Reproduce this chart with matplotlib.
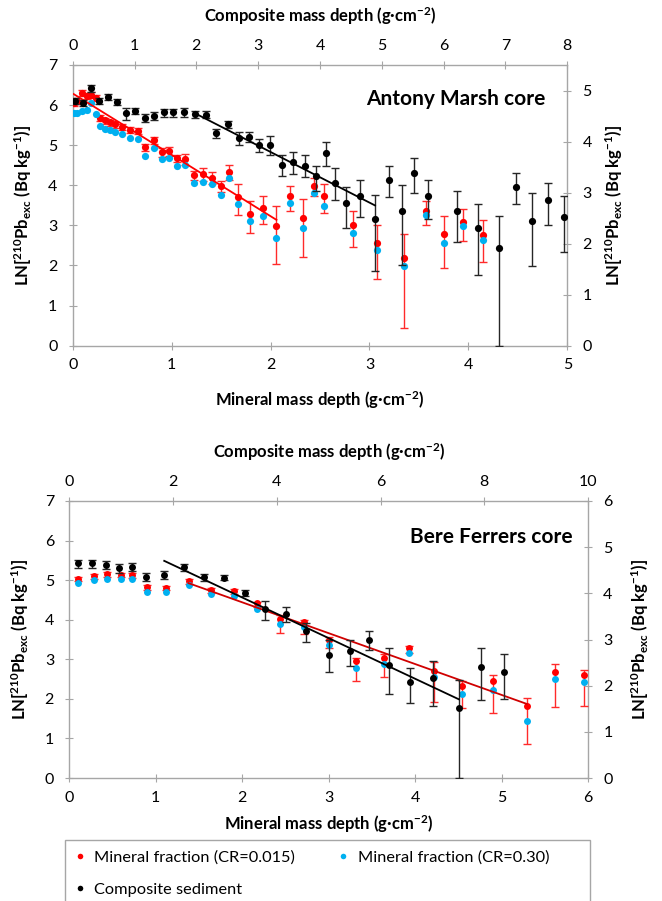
import matplotlib
matplotlib.use("Agg")
import matplotlib.pyplot as plt
from matplotlib.lines import Line2D
from matplotlib.patches import Rectangle
from matplotlib.ticker import MultipleLocator
import numpy as np

plt.rcParams['font.family'] = ['Lato', 'DejaVu Sans']
plt.rcParams['mathtext.fontset'] = 'custom'
plt.rcParams['mathtext.rm'] = 'Lato'
plt.rcParams['mathtext.bf'] = 'Lato:bold'
plt.rcParams['mathtext.default'] = 'bf'

RED = '#FF0000'
BLUE = '#00B0F0'
AXIS_GREY = '#A6A6A6'

# ---------------- Antony Marsh core ----------------
am_mineral_depth = [0.01, 0.04, 0.09, 0.14, 0.19, 0.24, 0.28, 0.33, 0.38, 0.43, 0.50, 0.58, 0.66,
                    0.73, 0.82, 0.90, 0.97, 1.05, 1.14, 1.23, 1.32, 1.41, 1.50, 1.58, 1.67, 1.79,
                    1.92, 2.06, 2.20, 2.33, 2.44, 2.54, 2.83, 3.08, 3.35, 3.57, 3.75, 3.95, 4.15]
am_ln_cr015 = [6.06, 6.10, 6.31, 6.22, 6.25, 6.18, 5.68, 5.62, 5.57, 5.52, 5.46, 5.39, 5.35,
               4.95, 5.12, 4.83, 4.85, 4.67, 4.66, 4.25, 4.28, 4.19, 3.98, 4.34, 3.71, 3.28,
               3.43, 2.99, 3.73, 3.18, 3.99, 3.73, 3.01, 2.56, 2.19, 3.35, 2.78, 3.08, 2.75]
am_err_lo_cr015 = [0.08] * 13 + [0.10, 0.10, 0.12, 0.12, 0.10, 0.15, 0.12, 0.18, 0.17, 0.14, 0.20,
                                 0.44, 0.47, 0.40, 0.96, 0.38, 0.97, 0.25, 0.42, 0.55, 0.89, 1.74,
                                 0.35, 0.83, 0.48, 0.67]
am_err_hi_cr015 = [0.07] * 13 + [0.08, 0.08, 0.10, 0.10, 0.08, 0.12, 0.10, 0.15, 0.14, 0.12, 0.17,
                                 0.31, 0.32, 0.30, 0.49, 0.26, 0.49, 0.20, 0.29, 0.36, 0.46, 0.60,
                                 0.25, 0.46, 0.33, 0.39]
am_ln_cr030 = [5.81, 5.80, 5.85, 5.87, 6.06, 5.77, 5.48, 5.40, 5.38, 5.33, 5.28, 5.19, 5.15,
               4.74, 4.93, 4.65, 4.68, 4.49, 4.50, 4.06, 4.09, 4.02, 3.76, 4.19, 3.54, 3.10,
               3.24, 2.68, 3.57, 2.93, 3.81, 3.49, 2.82, 2.39, 1.98, 3.27, 2.55, 2.99, 2.63]

am_composite_depth = [0.04, 0.16, 0.29, 0.43, 0.57, 0.72, 0.87, 1.01, 1.17, 1.32, 1.47, 1.62, 1.80,
                      1.98, 2.16, 2.32, 2.51, 2.69, 2.85, 3.02, 3.19, 3.39, 3.57, 3.75, 3.93, 4.09,
                      4.25, 4.42, 4.65, 4.89, 5.11, 5.33, 5.52, 5.74, 6.21, 6.55, 6.90, 7.17, 7.43,
                      7.69, 7.94]
am_ln_composite = [4.79, 4.76, 5.04, 4.79, 4.88, 4.78, 4.55, 4.60, 4.47, 4.51, 4.57, 4.57, 4.58,
                   4.54, 4.53, 4.16, 4.34, 4.07, 4.09, 3.93, 3.93, 3.55, 3.60, 3.53, 3.32, 3.78,
                   3.18, 2.79, 2.94, 2.48, 3.24, 2.63, 3.38, 2.94, 2.64, 2.30, 1.92, 3.10, 2.44,
                   2.85, 2.52]
am_err_lo_composite = [0.06] * 6 + [0.12, 0.06, 0.08, 0.08, 0.08, 0.08, 0.09, 0.07, 0.07, 0.10, 0.08,
                                    0.13, 0.10, 0.13, 0.20, 0.22, 0.24, 0.23, 0.28, 0.25, 0.33, 0.48,
                                    0.41, 1.02, 0.33, 1.04, 0.38, 0.46, 0.60, 0.92, 1.92, 0.33, 0.88,
                                    0.48, 0.68]
am_err_hi_composite = [0.06] * 6 + [0.10, 0.06, 0.07, 0.07, 0.07, 0.07, 0.08, 0.06, 0.06, 0.09, 0.07,
                                    0.12, 0.09, 0.12, 0.17, 0.18, 0.20, 0.20, 0.20, 0.21, 0.31, 0.32,
                                    0.30, 0.48, 0.29, 0.51, 0.29, 0.30, 0.40, 0.48, 0.63, 0.28, 0.55,
                                    0.33, 0.42]

# regression lines: (intercept, slope, x start, x end)
am_fit_cr015 = (6.29, -1.53, 0.01, 2.06)
am_fit_composite = (5.78, -0.62, 2.00, 4.89)

# ---------------- Bere Ferrers core ----------------
bf_mineral_depth = [0.10, 0.29, 0.44, 0.60, 0.73, 0.90, 1.12, 1.38, 1.64, 1.91, 2.17, 2.44, 2.72,
                    3.00, 3.32, 3.64, 3.93, 4.22, 4.54, 4.90, 5.29, 5.62, 5.95]
bf_ln_cr015 = [5.04, 5.10, 5.15, 5.14, 5.12, 4.83, 4.81, 4.97, 4.75, 4.72, 4.41, 4.02, 3.94,
               3.50, 2.95, 3.02, 3.28, 2.70, 2.33, 2.44, 1.83, 2.68, 2.61]
bf_err_lo_cr015 = [0.07] * 10 + [0.10, 0.35, 0.30, 0.22, 0.51, 0.46, 0.12, 0.78, 0.55, 0.79, 0.97,
                                 0.88, 0.79]
bf_err_hi_cr015 = [0.05] * 10 + [0.05, 0.09, 0.06, 0.06, 0.08, 0.12, 0.06, 0.23, 0.12, 0.16, 0.19,
                                 0.21, 0.11]
bf_ln_cr030 = [4.94, 5.00, 5.03, 5.03, 5.02, 4.71, 4.71, 4.87, 4.64, 4.60, 4.27, 3.90, 3.81,
               3.37, 2.79, 2.87, 3.15, 2.56, 2.12, 2.22, 1.44, 2.50, 2.42]

bf_composite_depth = [0.16, 0.44, 0.70, 0.96, 1.21, 1.48, 1.82, 2.21, 2.60, 2.99, 3.38, 3.77, 4.18,
                      4.57, 5.00, 5.42, 5.78, 6.17, 6.56, 7.02, 7.51, 7.93, 8.38]
bf_ln_composite = [4.65, 4.65, 4.62, 4.55, 4.58, 4.36, 4.40, 4.57, 4.35, 4.34, 4.01, 3.65, 3.55,
                   3.18, 2.66, 2.75, 3.00, 2.45, 2.08, 2.17, 1.52, 2.40, 2.30]
bf_err_lo_composite = [0.10] * 7 + [0.08, 0.08, 0.06, 0.07, 0.23, 0.17, 0.23, 0.36, 0.32, 0.23, 0.62,
                                    0.46, 0.60, 1.52, 0.71, 0.59]
bf_err_hi_composite = [0.08] * 7 + [0.06, 0.06, 0.05, 0.06, 0.19, 0.15, 0.17, 0.33, 0.24, 0.19, 0.37,
                                    0.30, 0.36, 0.60, 0.41, 0.38]

bf_fit_cr015 = (6.00, -0.78, 1.38, 5.29)
bf_fit_composite = (5.67, -0.528, 1.83, 7.51)

W, H = 662, 901
fig = plt.figure(figsize=(W / 100, H / 100), dpi=100)


def px_rect(left, top, right, bottom):
    return [left / W, 1 - bottom / H, (right - left) / W, (bottom - top) / H]


def style_axis(ax):
    ax.tick_params(direction='inout', length=6, width=0.8, color=AXIS_GREY,
                   labelsize=11.5, labelcolor='black')


def draw_panel(rect, mineral_depth, ln_cr015, lo015, hi015, ln_cr030, comp_depth, ln_comp,
               lo_comp, hi_comp, fit_red, fit_black, red_line_color, mineral_max, comp_max,
               comp_step, left_max, right_max, title, title_xy, ms, pads):
    ax = fig.add_axes(rect)
    ax2 = fig.add_axes(rect, frameon=False)
    ax2.patch.set_visible(False)

    for sp in ax.spines.values():
        sp.set_color(AXIS_GREY)
        sp.set_linewidth(1.0)

    # mineral fractions on the bottom / left scales
    ax.errorbar(mineral_depth, ln_cr015, yerr=[lo015, hi015], fmt='o', color=RED, ecolor='#FF2A2A',
                elinewidth=1.0, capsize=2.6, capthick=1.0, ms=ms, mec='none', zorder=3)
    ax.plot(mineral_depth, ln_cr030, 'o', color=BLUE, ms=ms, mec='none', zorder=4)
    a, b, x0, x1 = fit_red
    xs = np.array([x0, x1])
    ax.plot(xs, a + b * xs, color=red_line_color, lw=1.3, zorder=5)

    ax.set_xlim(0, mineral_max)
    ax.set_ylim(0, left_max)
    ax.xaxis.set_major_locator(MultipleLocator(1))
    ax.yaxis.set_major_locator(MultipleLocator(1))
    style_axis(ax)
    ax.tick_params(axis='x', pad=6)
    ax.tick_params(axis='y', pad=8)

    # composite sediment on the top / right scales
    ax2.errorbar(comp_depth, ln_comp, yerr=[lo_comp, hi_comp], fmt='o', color='black',
                 ecolor='#262626', elinewidth=1.0, capsize=2.6, capthick=1.0, ms=ms, mec='none',
                 zorder=3)
    a, b, x0, x1 = fit_black
    xs = np.array([x0, x1])
    ax2.plot(xs, a + b * xs, color='black', lw=1.3, zorder=5)
    ax2.set_xlim(0, comp_max)
    ax2.set_ylim(0, right_max)
    ax2.xaxis.set_major_locator(MultipleLocator(comp_step))
    ax2.yaxis.set_major_locator(MultipleLocator(1))
    ax2.xaxis.set_ticks_position('top')
    ax2.xaxis.set_label_position('top')
    ax2.yaxis.set_ticks_position('right')
    ax2.yaxis.set_label_position('right')
    style_axis(ax2)
    ax2.tick_params(axis='x', pad=6)
    ax2.tick_params(axis='y', pad=8)

    ylab = r'LN[$^{210}$Pb$_{exc}$ (Bq kg$^{-1}$)]'
    ax.set_xlabel(r'Mineral mass depth (g·cm$^{-2}$)', fontsize=12, fontweight='bold',
                  labelpad=pads[0])
    ax2.set_xlabel(r'Composite mass depth (g·cm$^{-2}$)', fontsize=12, fontweight='bold',
                   labelpad=pads[1])
    ax.set_ylabel(ylab, fontsize=12, fontweight='bold', labelpad=pads[2])
    ax2.set_ylabel(ylab, fontsize=12, fontweight='bold', labelpad=pads[3])

    ax2.text(title_xy[0], title_xy[1], title, transform=ax2.transAxes, ha='right', va='center',
             fontsize=15, fontweight='bold')
    return ax, ax2


draw_panel(px_rect(72.7, 65, 567.3, 345.7),
           am_mineral_depth, am_ln_cr015, am_err_lo_cr015, am_err_hi_cr015, am_ln_cr030,
           am_composite_depth, am_ln_composite, am_err_lo_composite, am_err_hi_composite,
           am_fit_cr015, am_fit_composite, '#FF0000', 5, 8, 1, 7, 5.5,
           'Antony Marsh core', (0.955, 0.88), 5.2, (12, 12, 10, 8))

draw_panel(px_rect(69.3, 501, 588, 778),
           bf_mineral_depth, bf_ln_cr015, bf_err_lo_cr015, bf_err_hi_cr015, bf_ln_cr030,
           bf_composite_depth, bf_ln_composite, bf_err_lo_composite, bf_err_hi_composite,
           bf_fit_cr015, bf_fit_composite, '#D00000', 6, 10, 2, 7, 6,
           'Bere Ferrers core', (0.97, 0.87), 5.0, (6, 12, 10, 12))

# legend frame runs past the lower edge of the figure
frame_left, frame_top, frame_right = 65, 840, 590
fig.patches.append(Rectangle((frame_left / W, -0.02), (frame_right - frame_left) / W,
                             1 - frame_top / H + 0.02, transform=fig.transFigure,
                             facecolor='white', edgecolor=AXIS_GREY, lw=1.0, zorder=0))

handles = [Line2D([], [], ls='none', marker='o', color=RED, mec='none', ms=4),
           Line2D([], [], ls='none', marker='o', color='black', mec='none', ms=4),
           Line2D([], [], ls='none', marker='o', color=BLUE, mec='none', ms=4)]
labels = ['Mineral fraction (CR=0.015)', 'Composite sediment', 'Mineral fraction (CR=0.30)']
leg = fig.legend(handles, labels, loc='upper left', ncol=2,
                 bbox_to_anchor=(frame_left / W, 1 - frame_top / H),
                 frameon=False, fontsize=11.8,
                 handlelength=0.6, handletextpad=0.6, borderpad=0.6, labelspacing=1.1,
                 columnspacing=2.6, borderaxespad=0)

fig.savefig('out.png', dpi=100)
